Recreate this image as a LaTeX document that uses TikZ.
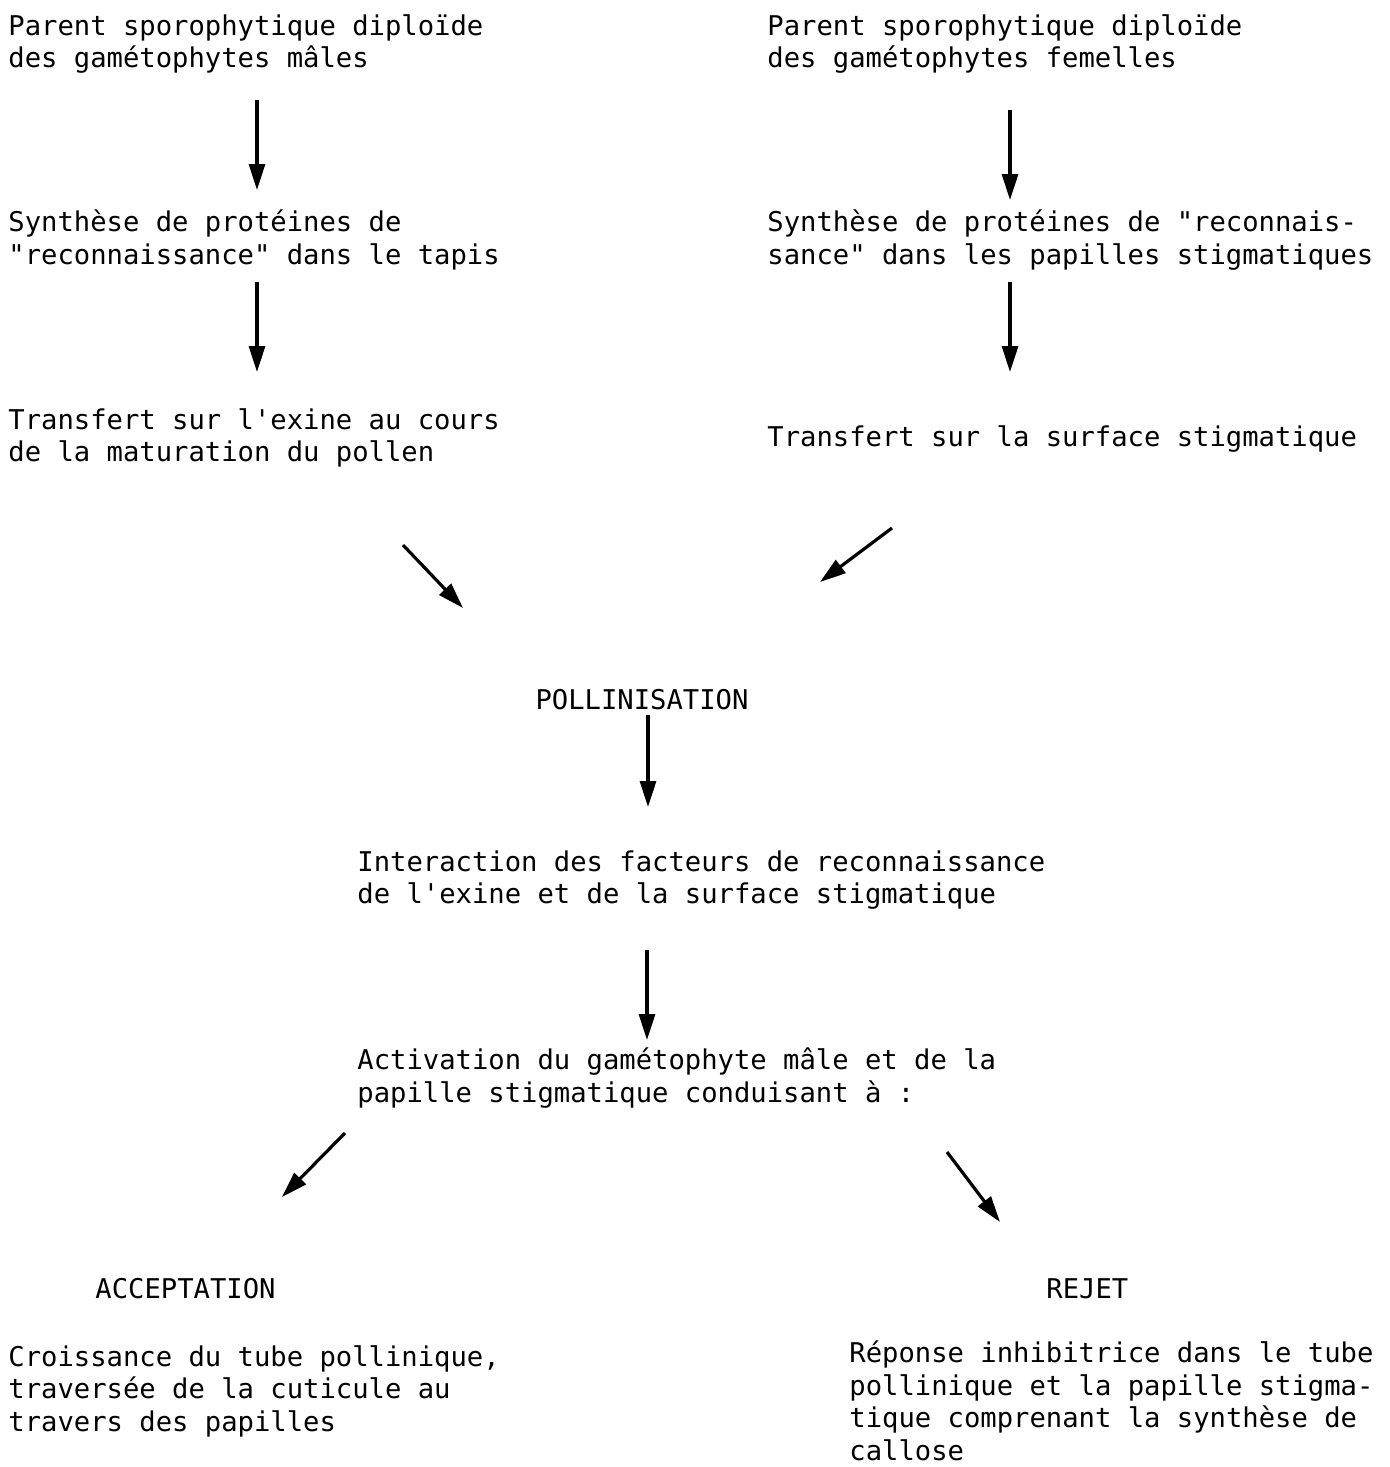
\documentclass[tikz,border=0pt]{standalone}
\usepackage{fontspec}
\setmonofont{DejaVu Sans Mono}
\usetikzlibrary{arrows.meta}
\begin{document}
\begin{tikzpicture}[x=0.5pt,y=-0.5pt,
  txt/.style={anchor=west, align=left, inner sep=0pt, font=\ttfamily\fontsize{13.6pt}{16.25pt}\selectfont},
  arr/.style={line width=1.6pt, -{Triangle[length=13pt,width=8pt]}}]
\useasboundingbox[fill=white] (0,0) rectangle (1389,1467);

\node[txt] (pm) at (8,44) {Parent sporophytique diploïde\\des gamétophytes mâles};
\node[txt] (pf) at (767,44) {Parent sporophytique diploïde\\des gamétophytes femelles};
\node[txt] (sm) at (8,240) {Synthèse de protéines de\\"reconnaissance" dans le tapis};
\node[txt] (sf) at (767,240) {Synthèse de protéines de "reconnais-\\sance" dans les papilles stigmatiques};
\node[txt] (tm) at (8,438) {Transfert sur l'exine au cours\\de la maturation du pollen};
\node[txt] (tf) at (767,439) {Transfert sur la surface stigmatique};
\node[txt, anchor=center] (poll) at (642,700) {POLLINISATION};
\node[txt] (inter) at (357,880) {Interaction des facteurs de reconnaissance\\de l'exine et de la surface stigmatique};
\node[txt] (activ) at (357,1078) {Activation du gamétophyte mâle et de la\\papille stigmatique conduisant à :};
\node[txt] (acc) at (95,1289) {ACCEPTATION};
\node[txt] (croi) at (8,1391) {Croissance du tube pollinique,\\traversée de la cuticule au\\travers des papilles};
\node[txt] (rej) at (1046,1289) {REJET};
\node[txt] (rep) at (849,1401) {Réponse inhibitrice dans le tube\\pollinique et la papille stigma-\\tique comprenant la synthèse de\\callose};

\coordinate (a1s) at (257,100);  \coordinate (a1e) at (257,190);
\coordinate (a2s) at (1010,110); \coordinate (a2e) at (1010,200);
\coordinate (a3s) at (257,282);  \coordinate (a3e) at (257,372);
\coordinate (a4s) at (1010,282); \coordinate (a4e) at (1010,372);
\coordinate (a5s) at (403,545);  \coordinate (a5e) at (463,608);
\coordinate (a6s) at (892,528);  \coordinate (a6e) at (820,582);
\coordinate (a7s) at (648,715);  \coordinate (a7e) at (648,807);
\coordinate (a8s) at (647,950);  \coordinate (a8e) at (647,1040);
\coordinate (a9s) at (345,1133); \coordinate (a9e) at (282,1197);
\coordinate (a10s) at (947,1152); \coordinate (a10e) at (1000,1222);

\foreach \i in {1,...,10} \draw[arr] (a\i s) -- (a\i e);
\end{tikzpicture}
\end{document}
